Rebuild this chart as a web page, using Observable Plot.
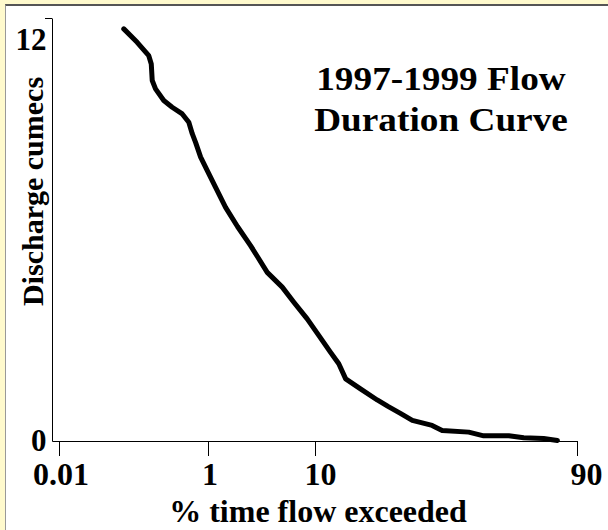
<!DOCTYPE html>
<html><head><meta charset="utf-8">
<script src="https://cdn.jsdelivr.net/npm/d3@7"></script>
<script src="https://cdn.jsdelivr.net/npm/@observablehq/plot@0.6"></script>
<style>
html,body{margin:0;padding:0;}
body{width:608px;height:530px;background:#fffacd;position:relative;overflow:hidden;}
#panel{position:absolute;left:5px;top:4px;right:0;bottom:0;background:#fff;border-top:2px solid #555;border-left:1px solid #999;}
#chart{position:absolute;left:0;top:0;}
</style></head><body><div id="panel"></div><div id="chart"></div>
<script>
const percentExceeded = [0.091, 0.138, 0.196, 0.211, 0.217, 0.239, 0.303, 0.384, 0.506, 0.603, 0.66, 0.72, 0.82, 0.97, 1.20, 1.54, 2.05, 2.77, 3.98, 5.41, 6.77, 8.65, 10.6, 12.8, 14.6, 16.2, 20.0, 24.9, 28.5, 32.6, 36.9, 44.4, 48.3, 58.6, 64.2, 72.9, 77.5, 82.9, 86.1];
const dischargeCumecs = [12.32, 11.92, 11.52, 11.27, 10.78, 10.53, 10.18, 9.98, 9.78, 9.53, 9.19, 8.93, 8.49, 8.09, 7.59, 6.99, 6.42, 5.85, 5.05, 4.61, 4.16, 3.66, 3.16, 2.67, 2.32, 1.87, 1.57, 1.24, 1.04, 0.84, 0.63, 0.48, 0.33, 0.28, 0.17, 0.17, 0.11, 0.09, 0.03];
const xTickPercents = [0.01, 1, 10, 90];
const xTickLabels = ["0.01", "1", "10", "90"];
const yTickValues = [0, 12];
const yTickLabels = ["0", "12"];
const yAxisTop = 12.63;
const titleText = "1997-1999 Flow\nDuration Curve";
const xTitle = "% time flow exceeded";
const yTitle = "Discharge cumecs";

function probit(p) {
  const a = [-3.969683028665376e+01, 2.209460984245205e+02, -2.759285104469687e+02, 1.383577518672690e+02, -3.066479806614716e+01, 2.506628277459239e+00];
  const b = [-5.447609879822406e+01, 1.615858368580409e+02, -1.556989798598866e+02, 6.680131188771972e+01, -1.328068155288572e+01];
  const c = [-7.784894002430293e-03, -3.223964580411365e-01, -2.400758277161838e+00, -2.549732539343734e+00, 4.374664141464968e+00, 2.938163982698783e+00];
  const d = [7.784695709041462e-03, 3.224671290700398e-01, 2.445134137142996e+00, 3.754408661907416e+00];
  const plow = 0.02425, phigh = 1 - plow;
  let q, r;
  if (p < plow) {
    q = Math.sqrt(-2 * Math.log(p));
    return (((((c[0]*q+c[1])*q+c[2])*q+c[3])*q+c[4])*q+c[5]) / ((((d[0]*q+d[1])*q+d[2])*q+d[3])*q+1);
  }
  if (p > phigh) {
    q = Math.sqrt(-2 * Math.log(1 - p));
    return -(((((c[0]*q+c[1])*q+c[2])*q+c[3])*q+c[4])*q+c[5]) / ((((d[0]*q+d[1])*q+d[2])*q+d[3])*q+1);
  }
  q = p - 0.5; r = q * q;
  return (((((a[0]*r+a[1])*r+a[2])*r+a[3])*r+a[4])*r+a[5])*q / (((((b[0]*r+b[1])*r+b[2])*r+b[3])*r+b[4])*r+1);
}
const z = p => probit(p / 100);
const rows = percentExceeded.map((p, i) => ({z: z(p), q: dischargeCumecs[i]}));
const xTickZ = xTickPercents.map(z);
const xLabel = new Map(xTickZ.map((v, i) => [v, xTickLabels[i]]));
const yLabel = new Map(yTickValues.map((v, i) => [v, yTickLabels[i]]));
const labelShift = [1.5, 1.5, 5, 9];
const font = "'Liberation Serif','Times New Roman',Times,serif";
const W = 608, H = 530, mL = 52, mR = 31, mT = 18, mB = 89;
const fw = W - mL - mR, fh = H - mT - mB;

const chart = Plot.plot({
  width: W, height: H, marginLeft: mL, marginRight: mR, marginTop: mT, marginBottom: mB,
  style: {background: "transparent", fontFamily: font, color: "black", overflow: "visible"},
  x: {type: "linear", domain: xTickZ, range: [59, 208, 315, 577]},
  y: {domain: [0, yAxisTop]},
  marks: [
    Plot.frame({stroke: "black", strokeWidth: 1, strokeDasharray: `0,${fw + fh},${fw + fh}`}),
    Plot.axisX({ticks: xTickZ, tickSize: 15, tickFormat: () => "", label: null}),
    ...xTickZ.map((v, i) => Plot.axisX({ticks: [v], tickSize: 0, tickPadding: 21, dx: labelShift[i], tickFormat: d => xLabel.get(d), fontSize: 32, fontWeight: "bold", label: null})),
    Plot.axisY({ticks: [yAxisTop], tickSize: 7, tickFormat: () => "", label: null}),
    Plot.axisY({ticks: yTickValues, tickSize: 0, tickPadding: 6, tickFormat: d => yLabel.get(d), fontSize: 31, fontWeight: "bold", label: null}),
    Plot.line(rows, {x: "z", y: "q", stroke: "black", strokeWidth: 5}),
    Plot.text([titleText], {text: d => d, frameAnchor: "top", dx: 126, dy: 112, lineAnchor: "bottom", lineHeight: 1.23, fontSize: 33, fontWeight: "bold"}),
    Plot.text([xTitle], {text: d => d, frameAnchor: "bottom", dx: 3, dy: 80, lineAnchor: "bottom", fontSize: 32, fontWeight: "bold"}),
    Plot.text([yTitle], {text: d => d, frameAnchor: "left", textAnchor: "middle", rotate: -90, dx: -19, dy: -38.5, fontSize: 30, fontWeight: "bold"})
  ]
});
chart.querySelectorAll("text").forEach(t => {
  if (t.textContent.startsWith("1997")) {
    const tr = t.getAttribute("transform") || "";
    t.setAttribute("transform", (tr + " scale(1.13,1)").trim());
  }
});
document.getElementById("chart").appendChild(chart);
</script></body></html>
